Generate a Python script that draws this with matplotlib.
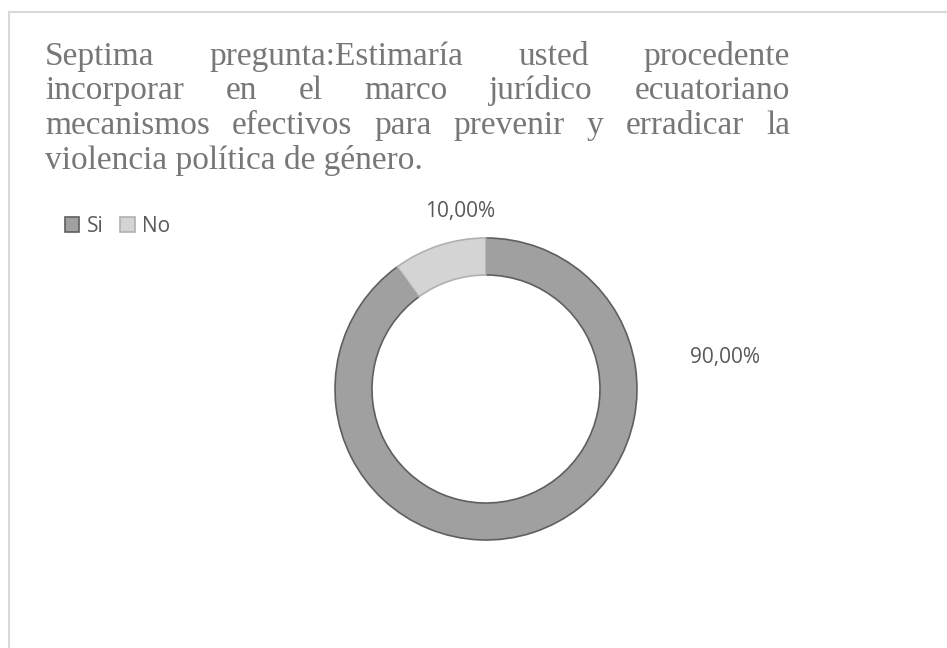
import matplotlib.pyplot as plt
from matplotlib.lines import Line2D

# data
categories = ['Si', 'No']
values = [90.0, 10.0]
colors = ['#a0a0a0', '#d4d4d4']
edge_colors = ['#5f5f5f', '#b0b0b0']

title_lines = [
    'Septima pregunta:Estimaría usted procedente',
    'incorporar en el marco jurídico ecuatoriano',
    'mecanismos efectivos para prevenir y erradicar la',
    'violencia política de género.',
]

W, H = 947, 648
fig = plt.figure(figsize=(W / 100, H / 100), dpi=100)
fig.patch.set_facecolor('white')


def px(x, y):
    return x / W, 1 - y / H


# frame (cropped on right and bottom)
fig.add_artist(Line2D([9 / W, 9 / W], [0, 1 - 12 / H], transform=fig.transFigure,
                      color='#d9d9d9', lw=1.5))
fig.add_artist(Line2D([9 / W, 1], [1 - 12 / H, 1 - 12 / H], transform=fig.transFigure,
                      color='#d9d9d9', lw=1.5))

# justified title
title_kw = dict(fontsize=24, family='Liberation Serif', color='#777777')
x_left, x_right = 45, 790
baselines = [65, 99, 134, 169]
renderer = fig.canvas.get_renderer()
for i, line in enumerate(title_lines):
    words = line.split(' ')
    y = baselines[i]
    if i == len(title_lines) - 1:
        fig.text(*px(x_left, y), line, va='baseline', ha='left', **title_kw)
        continue
    texts = [fig.text(0, 0, w, va='baseline', ha='left', **title_kw) for w in words]
    widths = [t.get_window_extent(renderer).width for t in texts]
    gap = (x_right - x_left - sum(widths)) / (len(words) - 1)
    x = x_left
    for t, w in zip(texts, widths):
        t.set_position(px(x, y))
        x += w + gap

# donut
cx, cy, r = 486, 389, 151
ax = fig.add_axes([(cx - r) / W, (H - cy - r) / H, 2 * r / W, 2 * r / H])
wedges, _ = ax.pie(values, colors=colors, startangle=90, counterclock=False,
                   radius=1.0, wedgeprops=dict(width=0.245, linewidth=1.2))
for wdg, ec in zip(wedges, edge_colors):
    wdg.set_edgecolor(ec)
ax.set_xlim(-1, 1)
ax.set_ylim(-1, 1)
ax.set_aspect('equal')
ax.axis('off')

# data labels
label_pos = [(725, 357), (460, 211)]
for v, (lx, ly) in zip(values, label_pos):
    fig.text(*px(lx, ly), f'{v:.2f}'.replace('.', ',') + '%', ha='center', va='center',
             fontsize=15, family='Open Sans', color='#595959')

# legend
handles = [plt.Rectangle((0, 0), 1, 1, facecolor=c, edgecolor=e, linewidth=1.2)
           for c, e in zip(colors, edge_colors)]
fig.legend(handles, categories, loc='center left', bbox_to_anchor=px(46, 226),
           ncol=2, frameon=False, handlelength=0.7, handleheight=0.7,
           handletextpad=0.35, columnspacing=0.8,
           prop={'family': 'Open Sans', 'size': 15}, labelcolor='#595959')

fig.savefig('out.png', dpi=100, facecolor='white')
